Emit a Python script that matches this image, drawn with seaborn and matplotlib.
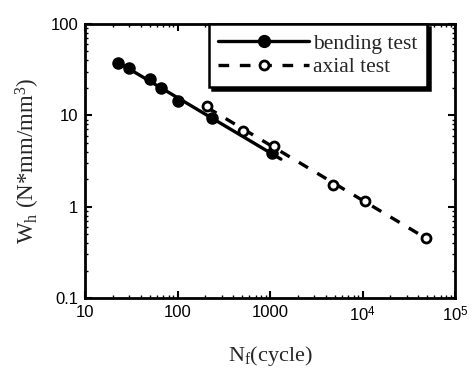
import numpy as np
import pandas as pd
import seaborn as sns
import matplotlib
matplotlib.use("Agg")
import matplotlib.pyplot as plt
from matplotlib.lines import Line2D
from matplotlib.ticker import FixedLocator, FixedFormatter, LogLocator, NullFormatter

# Hysteresis energy vs. cycles to failure
bending_cycles = [23, 30, 50, 67, 100, 234, 1050]
bending_wh = [37, 33, 25, 20, 14.5, 9.3, 3.86]

axial_cycles = [210, 516, 1100, 4800, 10700, 49000]
axial_wh = [12.5, 6.8, 4.6, 1.74, 1.14, 0.457]

x_ticks = [10, 100, 1000, 1e4, 1e5]
x_tick_labels = ["10", "100", "1000", r"10$^\mathregular{4}$", r"10$^\mathregular{5}$"]
y_ticks = [0.1, 1, 10, 100]
y_tick_labels = ["0.1", "1", "10", "100"]

sns.set_theme(style="ticks")
plt.rcParams["font.family"] = ["Liberation Sans", "DejaVu Sans"]
plt.rcParams["mathtext.fontset"] = "custom"
plt.rcParams["mathtext.rm"] = "Liberation Serif"
plt.rcParams["mathtext.it"] = "Liberation Serif:italic"

fig = plt.figure(figsize=(4.74, 3.72), dpi=100)
ax = fig.add_axes([85 / 474, 1 - 298 / 372, 370 / 474, 274 / 372])

bend = pd.DataFrame({"N": bending_cycles, "W": bending_wh})
axial = pd.DataFrame({"N": axial_cycles, "W": axial_wh})


def power_fit(df, x_lo, x_hi):
    k, c = np.polyfit(np.log10(df["N"]), np.log10(df["W"]), 1)
    xs = np.array([x_lo, x_hi])
    return pd.DataFrame({"N": xs, "W": 10 ** (c + k * np.log10(xs))})


bend_fit = power_fit(bend, min(bending_cycles), max(bending_cycles) * 1.25)
axial_fit = power_fit(axial, min(axial_cycles), max(axial_cycles))

sns.lineplot(data=bend_fit, x="N", y="W", ax=ax, color="black", lw=2.4, solid_capstyle="round")
sns.lineplot(data=axial_fit, x="N", y="W", ax=ax, color="black", lw=2.4,
             linestyle=(0, (3.2, 3.2)))
sns.scatterplot(data=bend, x="N", y="W", ax=ax, color="black", s=64, edgecolor="black",
                linewidth=1, zorder=4)
sns.scatterplot(data=axial, x="N", y="W", ax=ax, facecolor="white", s=42, edgecolor="black",
                linewidth=2, zorder=5)

ax.set_xscale("log")
ax.set_yscale("log")
ax.set_xlim(10, 1e5)
ax.set_ylim(0.1, 100)

ax.xaxis.set_major_locator(FixedLocator(x_ticks))
ax.xaxis.set_major_formatter(FixedFormatter(x_tick_labels))
ax.yaxis.set_major_locator(FixedLocator(y_ticks))
ax.yaxis.set_major_formatter(FixedFormatter(y_tick_labels))
ax.xaxis.set_minor_locator(LogLocator(base=10, subs=np.arange(2, 10)))
ax.yaxis.set_minor_locator(LogLocator(base=10, subs=np.arange(2, 10)))
ax.xaxis.set_minor_formatter(NullFormatter())
ax.yaxis.set_minor_formatter(NullFormatter())

ax.tick_params(which="both", direction="in", top=True, right=True, colors="black")
ax.tick_params(which="major", length=5, width=1.5, labelsize=12, pad=5)
ax.tick_params(which="minor", length=2.5, width=1)
for s in ax.spines.values():
    s.set_linewidth(2)
    s.set_color("black")

ax.set_xlabel(r"N$_\mathregular{f}$(cycle)", fontsize=16, family="Liberation Serif", labelpad=14)
ax.set_ylabel(r"W$_\mathregular{h}$ (N*mm/mm$^\mathregular{3}$)", fontsize=16.5,
              family="Liberation Serif", labelpad=6)

# Legend with handles mirroring line + marker styles
handles = [
    Line2D([], [], color="black", lw=2.4, marker="o", markersize=8.5, markerfacecolor="black"),
    Line2D([], [], color="black", lw=2.4, linestyle=(0, (3.2, 3.2)), marker="o", markersize=6.5,
           markerfacecolor="white", markeredgewidth=2),
]
leg = ax.legend(handles, ["bending test", "axial test"], loc="upper right",
                bbox_to_anchor=(0.925, 1.0), borderaxespad=0, frameon=True, fancybox=False,
                shadow={"color": "black", "alpha": 1}, handlelength=4.2, handletextpad=0.2,
                borderpad=0.45, labelspacing=0.15,
                prop={"family": "Liberation Serif", "size": 15.5})
leg.get_frame().set_edgecolor("black")
leg.get_frame().set_linewidth(1.8)
leg.get_frame().set_alpha(1)

fig.savefig("out.png", dpi=100)
